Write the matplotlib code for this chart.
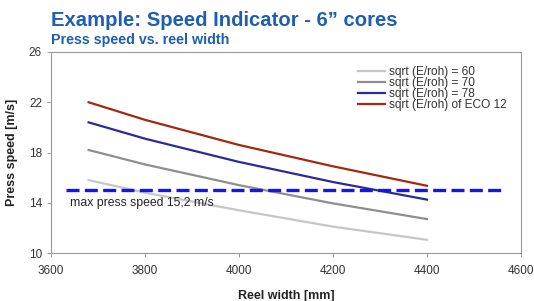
import matplotlib
matplotlib.use("Agg")
import matplotlib.pyplot as plt

plt.rcParams['font.family'] = ['Liberation Sans', 'DejaVu Sans']

reel_width = [3680, 3800, 4000, 4200, 4400]
series_labels = ["sqrt (E/roh) = 60", "sqrt (E/roh) = 70", "sqrt (E/roh) = 78", "sqrt (E/roh) of ECO 12"]
speed_60 = [15.8, 14.8, 13.4, 12.1, 11.05]
speed_70 = [18.2, 17.05, 15.4, 13.95, 12.7]
speed_78 = [20.4, 19.1, 17.25, 15.65, 14.25]
speed_eco = [22.0, 20.6, 18.6, 16.9, 15.35]
max_speed_x = [3632, 4562]
max_speed = 15.0
x_ticks = [3600, 3800, 4000, 4200, 4400, 4600]
y_ticks = [10, 14, 18, 22, 26]

colors = ["#c6c6c6", "#8e8e8e", "#2a2a9c", "#a3280e"]

fig = plt.figure(figsize=(5.34, 3.01), dpi=100)
ax = fig.add_axes([51/534, 48/301, 470/534, 201/301])

for ys, lab, c in zip([speed_60, speed_70, speed_78, speed_eco], series_labels, colors):
    ax.plot(reel_width, ys, color=c, lw=1.6, label=lab)

ax.plot(max_speed_x, [max_speed, max_speed], color="#1414f0", lw=2.4,
        dashes=(3.9, 1.6), solid_capstyle="butt", dash_capstyle="butt")
ax.text(3640, 14.0, "max press speed 15,2 m/s", fontsize=8.8, color="#222222", va="center", ha="left")

ax.set_xlim(3600, 4600)
ax.set_ylim(10, 26)
ax.set_xticks(x_ticks)
ax.set_yticks(y_ticks)
ax.tick_params(labelsize=8.5, colors="#333333", length=3, width=0.6, color="#888888")
ax.tick_params(axis="x", pad=6)
for s in ax.spines.values():
    s.set_color("#999999")
    s.set_linewidth(0.8)

ax.set_xlabel("Reel width [mm]", fontsize=9, fontweight="bold", color="#222222", labelpad=9)
ax.set_ylabel("Press speed [m/s]", fontsize=9, fontweight="bold", color="#222222", labelpad=8)

leg = ax.legend(loc="upper right", bbox_to_anchor=(0.985, 0.965), frameon=False, fontsize=8.6,
                handlelength=2.3, handletextpad=0.3, labelspacing=-0.08, borderaxespad=0.2)
for t in leg.get_texts():
    t.set_color("#333333")

fig.text(51/534, 1 - 20/301, "Example: Speed Indicator - 6\u201d cores", fontsize=14.6, fontweight="bold",
         color="#1d5fb0", va="center", ha="left")
fig.text(51/534, 1 - 40/301, "Press speed vs. reel width", fontsize=10.3, fontweight="bold",
         color="#1d5fb0", va="center", ha="left")

fig.savefig("out.png", dpi=100)
